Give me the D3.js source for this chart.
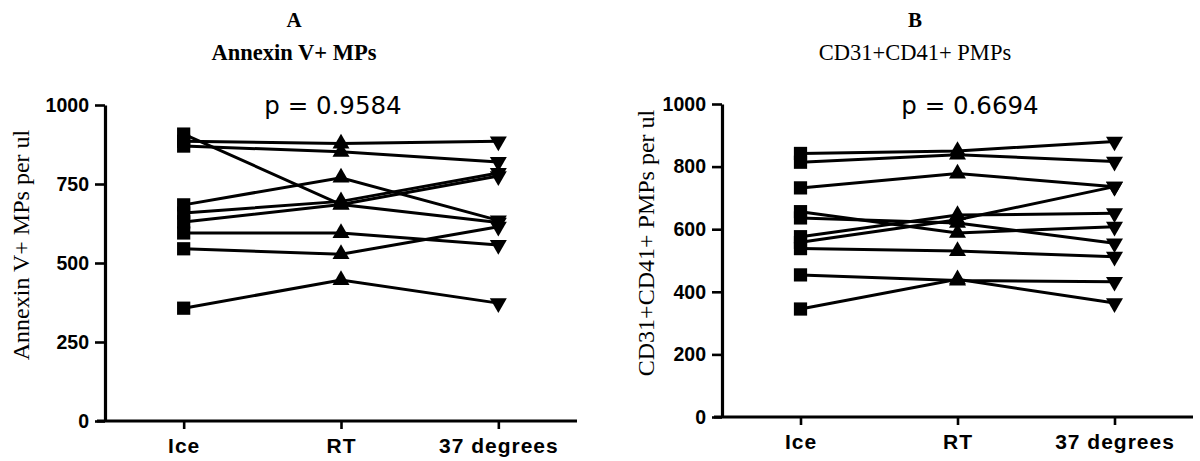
<!DOCTYPE html>
<html>
<head>
<meta charset="utf-8">
<script src="https://cdn.jsdelivr.net/npm/d3@7"></script>
<style>
  html, body { margin: 0; padding: 0; background: #fff; }
  svg { display: block; }
</style>
</head>
<body>
<svg id="chart" width="1200" height="461"></svg>
<script>
// ---- data ----
const categories = ["Ice", "RT", "37 degrees"];

// Panel A: Annexin V+ MPs per ul (one entry per subject)
const iceA = [908, 885, 870, 684, 658, 630, 595, 545, 357];
const rtA  = [685, 878, 852, 770, 695, 685, 595, 528, 446];
const degA = [628, 885, 820, 635, 785, 775, 557, 615, 373];
const ticksA = [0, 250, 500, 750, 1000];

// Panel B: CD31+CD41+ PMPs per ul
const iceB = [842, 814, 732, 656, 636, 576, 558, 538, 454, 345];
const rtB  = [850, 838, 778, 588, 620, 645, 630, 530, 436, 440];
const degB = [880, 816, 736, 608, 555, 651, 736, 512, 432, 364];
const ticksB = [0, 200, 400, 600, 800, 1000];

const panels = [
  { letter: "A", title: "Annexin V+ MPs", titleWeight: "bold", ylabel: "Annexin V+ MPs per ul",
    p: "p = 0.9584", ice: iceA, rt: rtA, deg: degA, ticks: ticksA,
    x0: 105, x1: 577, yTop: 105, yBot: 421, titleX: 294, pX: 333, pY: 114, yLabX: 29, yLabY: 245, xLabY: 453 },
  { letter: "B", title: "CD31+CD41+ PMPs", titleWeight: "normal", ylabel: "CD31+CD41+ PMPs per ul",
    p: "p = 0.6694", ice: iceB, rt: rtB, deg: degB, ticks: ticksB,
    x0: 722, x1: 1193, yTop: 104, yBot: 417, titleX: 915, pX: 970, pY: 114, yLabX: 654, yLabY: 243, xLabY: 449 }
];

const svg = d3.select("#chart");
const SANS = "'Liberation Sans', Arial, sans-serif";
const WIDE = "'DejaVu Sans', Verdana, sans-serif";
const SERIF = "'Liberation Serif', 'Times New Roman', serif";

panels.forEach(P => {
  const g = svg.append("g");
  const x = d3.scalePoint().domain(categories).range([P.x0, P.x1]).padding(0.5);
  const y = d3.scaleLinear().domain([0, 1000]).range([P.yBot, P.yTop]);

  // titles
  g.append("text").attr("x", P.titleX).attr("y", 27).attr("text-anchor", "middle")
    .style("font-family", SERIF).style("font-size", "21px").style("font-weight", "bold")
    .text(P.letter);
  g.append("text").attr("x", P.titleX).attr("y", 60).attr("text-anchor", "middle")
    .style("font-family", SERIF).style("font-size", "22.5px").style("font-weight", P.titleWeight)
    .text(P.title);
  g.append("text").attr("x", P.pX).attr("y", P.pY).attr("text-anchor", "middle")
    .style("font-family", WIDE).style("font-size", "24.5px")
    .text(P.p);

  // y axis title
  g.append("text")
    .attr("transform", `translate(${P.yLabX},${P.yLabY}) rotate(-90)`)
    .attr("text-anchor", "middle")
    .style("font-family", SERIF).style("font-size", "24px")
    .text(P.ylabel);

  // subject lines
  const subjects = P.ice.map((v, i) => [P.ice[i], P.rt[i], P.deg[i]]);
  const line = d3.line().x((d, j) => x(categories[j])).y(d => y(d));
  g.append("g").selectAll("path").data(subjects).join("path")
    .attr("d", line).attr("fill", "none").attr("stroke", "#000").attr("stroke-width", 3);

  // markers
  const sq = d3.symbol(d3.symbolSquare, 175)();
  const tri = d3.symbol(d3.symbolTriangle, 125)();
  g.append("g").selectAll("path").data(P.ice).join("path")
    .attr("d", sq).attr("fill", "#000")
    .attr("transform", d => `translate(${x(categories[0])},${y(d)})`);
  g.append("g").selectAll("path").data(P.rt).join("path")
    .attr("d", tri).attr("fill", "#000")
    .attr("transform", d => `translate(${x(categories[1])},${y(d)})`);
  g.append("g").selectAll("path").data(P.deg).join("path")
    .attr("d", tri).attr("fill", "#000")
    .attr("transform", d => `translate(${x(categories[2])},${y(d)}) rotate(180)`);

  // axes
  const yAxis = g.append("g").attr("transform", `translate(${P.x0},0)`)
    .call(d3.axisLeft(y).tickValues(P.ticks).tickSize(10).tickPadding(6).tickSizeOuter(0).tickFormat(d3.format("d")));
  yAxis.select(".domain").attr("stroke-width", 3.2);
  yAxis.selectAll(".tick line").attr("stroke-width", 2.6);
  yAxis.selectAll("text").style("font-family", SANS).style("font-size", "19.5px")
    .style("font-weight", "bold").attr("fill", "#000");

  const xAxis = g.append("g").attr("transform", `translate(0,${P.yBot})`)
    .call(d3.axisBottom(x).tickSize(8).tickPadding(6).tickSizeOuter(0));
  xAxis.select(".domain").attr("stroke-width", 3.2)
    .attr("d", `M${P.x0 - 8},0H${P.x1}`);
  xAxis.selectAll(".tick line").attr("stroke-width", 2.6);
  xAxis.selectAll("text").style("font-family", SANS).style("font-size", "21px")
    .style("font-weight", "bold").style("letter-spacing", "1px").attr("fill", "#000")
    .attr("y", P.xLabY - P.yBot).attr("dy", 0);
});
</script>
</body>
</html>
